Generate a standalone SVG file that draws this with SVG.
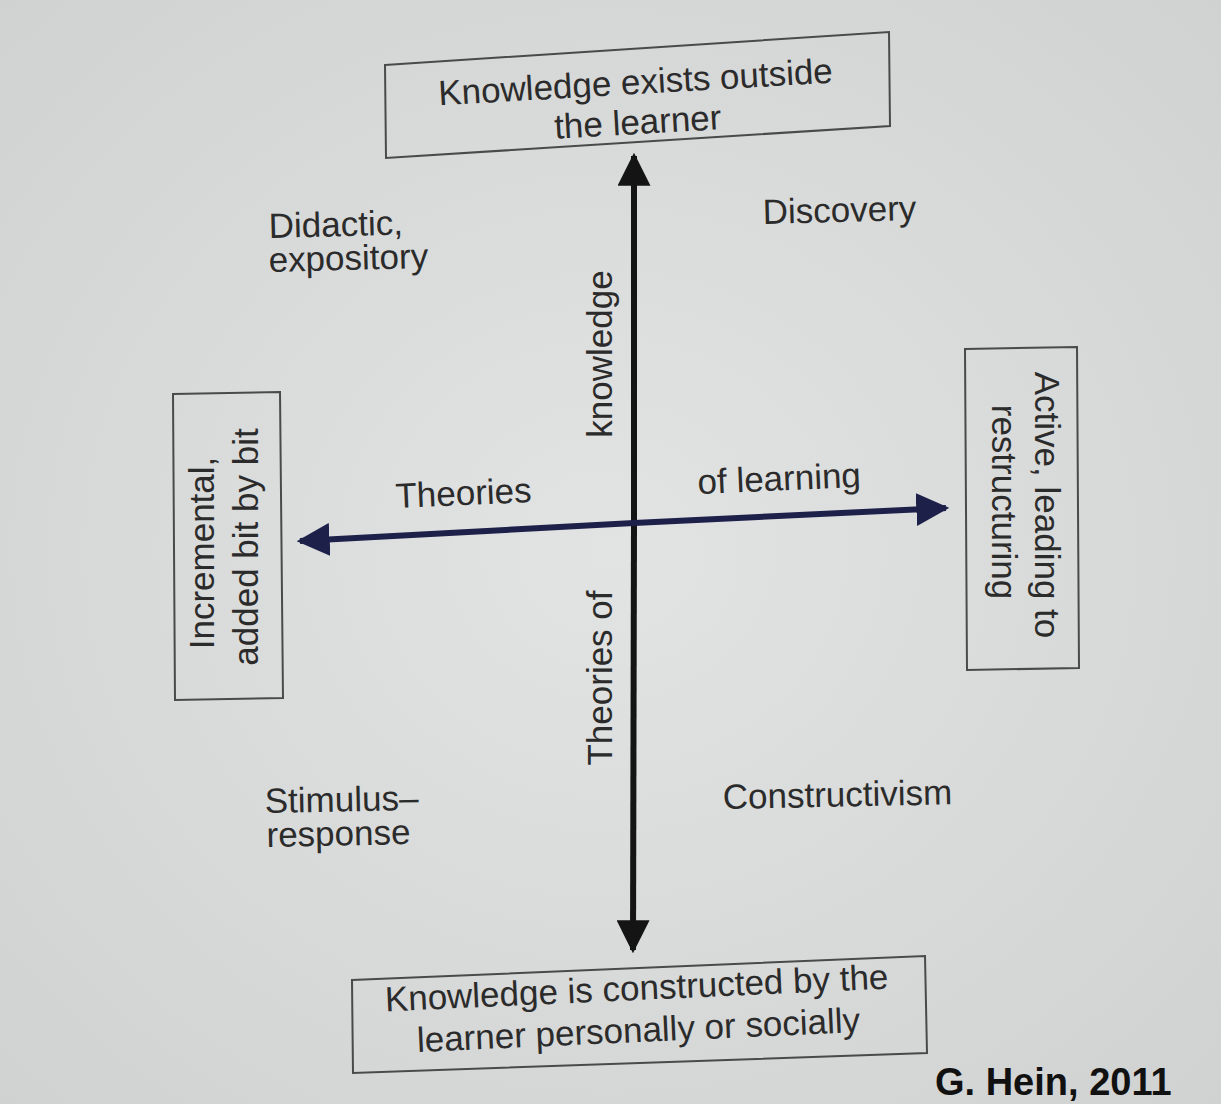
<svg xmlns="http://www.w3.org/2000/svg" width="1221" height="1104" viewBox="0 0 1221 1104">
  <defs>
    <radialGradient id="bg" cx="0.5" cy="0.5" r="0.75">
      <stop offset="0" stop-color="#e2e3e3"/>
      <stop offset="1" stop-color="#cfd0d0"/>
    </radialGradient>
    <marker id="headV" viewBox="0 0 10 10" refX="9" refY="5" markerWidth="5.5" markerHeight="5.5" orient="auto" markerUnits="strokeWidth">
      <path d="M0,0 L10,5 L0,10 Z" fill="#141414"/>
    </marker>
    <marker id="headH" viewBox="0 0 10 10" refX="9" refY="5" markerWidth="5.5" markerHeight="5.5" orient="auto" markerUnits="strokeWidth">
      <path d="M0,0 L10,5 L0,10 Z" fill="#1d2049"/>
    </marker>
  </defs>
  <style>
    .t { font-family: "Liberation Sans", Arial, sans-serif; font-size: 35px; fill: #2b2b2b; }
    .box { fill: none; stroke: #4a4a4a; stroke-width: 2; }
    .cite { font-family: "Liberation Sans", Arial, sans-serif; font-size: 38px; font-weight: bold; fill: #111; }
  </style>
  <rect x="0" y="0" width="1221" height="1104" fill="url(#bg)"/>

  <g id="connectors">
    <line id="axis-vertical-up" x1="634" y1="522" x2="634" y2="156" stroke="#141414" stroke-width="6" marker-end="url(#headV)"/>
    <line id="axis-vertical-down" x1="634" y1="522" x2="633" y2="950" stroke="#141414" stroke-width="6" marker-end="url(#headV)"/>
    <line id="axis-horizontal-left" x1="634" y1="523" x2="300" y2="541" stroke="#1d2049" stroke-width="6" marker-end="url(#headH)"/>
    <line id="axis-horizontal-right" x1="634" y1="523" x2="946" y2="508" stroke="#1d2049" stroke-width="6" marker-end="url(#headH)"/>
  </g>

  <g id="node-top">
    <polygon class="box" points="385,65 889,32 890,126 386,158"/>
    <g transform="rotate(-3.3 636 92)">
      <text class="t" x="636" y="94" text-anchor="middle" font-size="36">Knowledge exists outside</text>
      <text class="t" x="636" y="134" text-anchor="middle" font-size="36">the learner</text>
    </g>
  </g>

  <g id="node-bottom">
    <polygon class="box" points="352,980 925,956 927,1053 353,1073"/>
    <g transform="rotate(-2.6 637 998)">
      <text class="t" x="637" y="1000" text-anchor="middle" font-size="36">Knowledge is constructed by the</text>
      <text class="t" x="637" y="1042" text-anchor="middle" font-size="36">learner personally or socially</text>
    </g>
  </g>

  <g id="node-left">
    <polygon class="box" points="173,394 280,392 283,698 175,700"/>
    <text class="t" transform="translate(214,553) rotate(-90)" text-anchor="middle">Incremental,</text>
    <text class="t" transform="translate(258,547) rotate(-90)" text-anchor="middle">added bit by bit</text>
  </g>

  <g id="node-right">
    <polygon class="box" points="965,349 1077,347 1079,668 967,670"/>
    <text class="t" transform="translate(1035,505) rotate(90)" text-anchor="middle">Active, leading to</text>
    <text class="t" transform="translate(992,502) rotate(90)" text-anchor="middle">restructuring</text>
  </g>

  <g id="labels">
    <g transform="rotate(-1.5 270 237)">
      <text class="t" x="269" y="238">Didactic,</text>
      <text class="t" x="268" y="272">expository</text>
    </g>
    <text class="t" x="763" y="224" transform="rotate(-1.5 763 223)">Discovery</text>
    <g transform="rotate(-1.2 265 812)">
      <text class="t" x="265" y="813">Stimulus–</text>
      <text class="t" x="266" y="847">response</text>
    </g>
    <text class="t" x="723" y="809" transform="rotate(-1.2 723 808)">Constructivism</text>
    <text class="t" x="396" y="508" transform="rotate(-2.5 396 508)">Theories</text>
    <text class="t" x="698" y="494" transform="rotate(-2.5 698 494)">of learning</text>
    <text class="t" transform="translate(612,354) rotate(-90)" text-anchor="middle">knowledge</text>
    <text class="t" transform="translate(612,678) rotate(-90)" text-anchor="middle">Theories of</text>
    <text class="cite" x="935" y="1095">G. Hein, 2011</text>
  </g>
</svg>
